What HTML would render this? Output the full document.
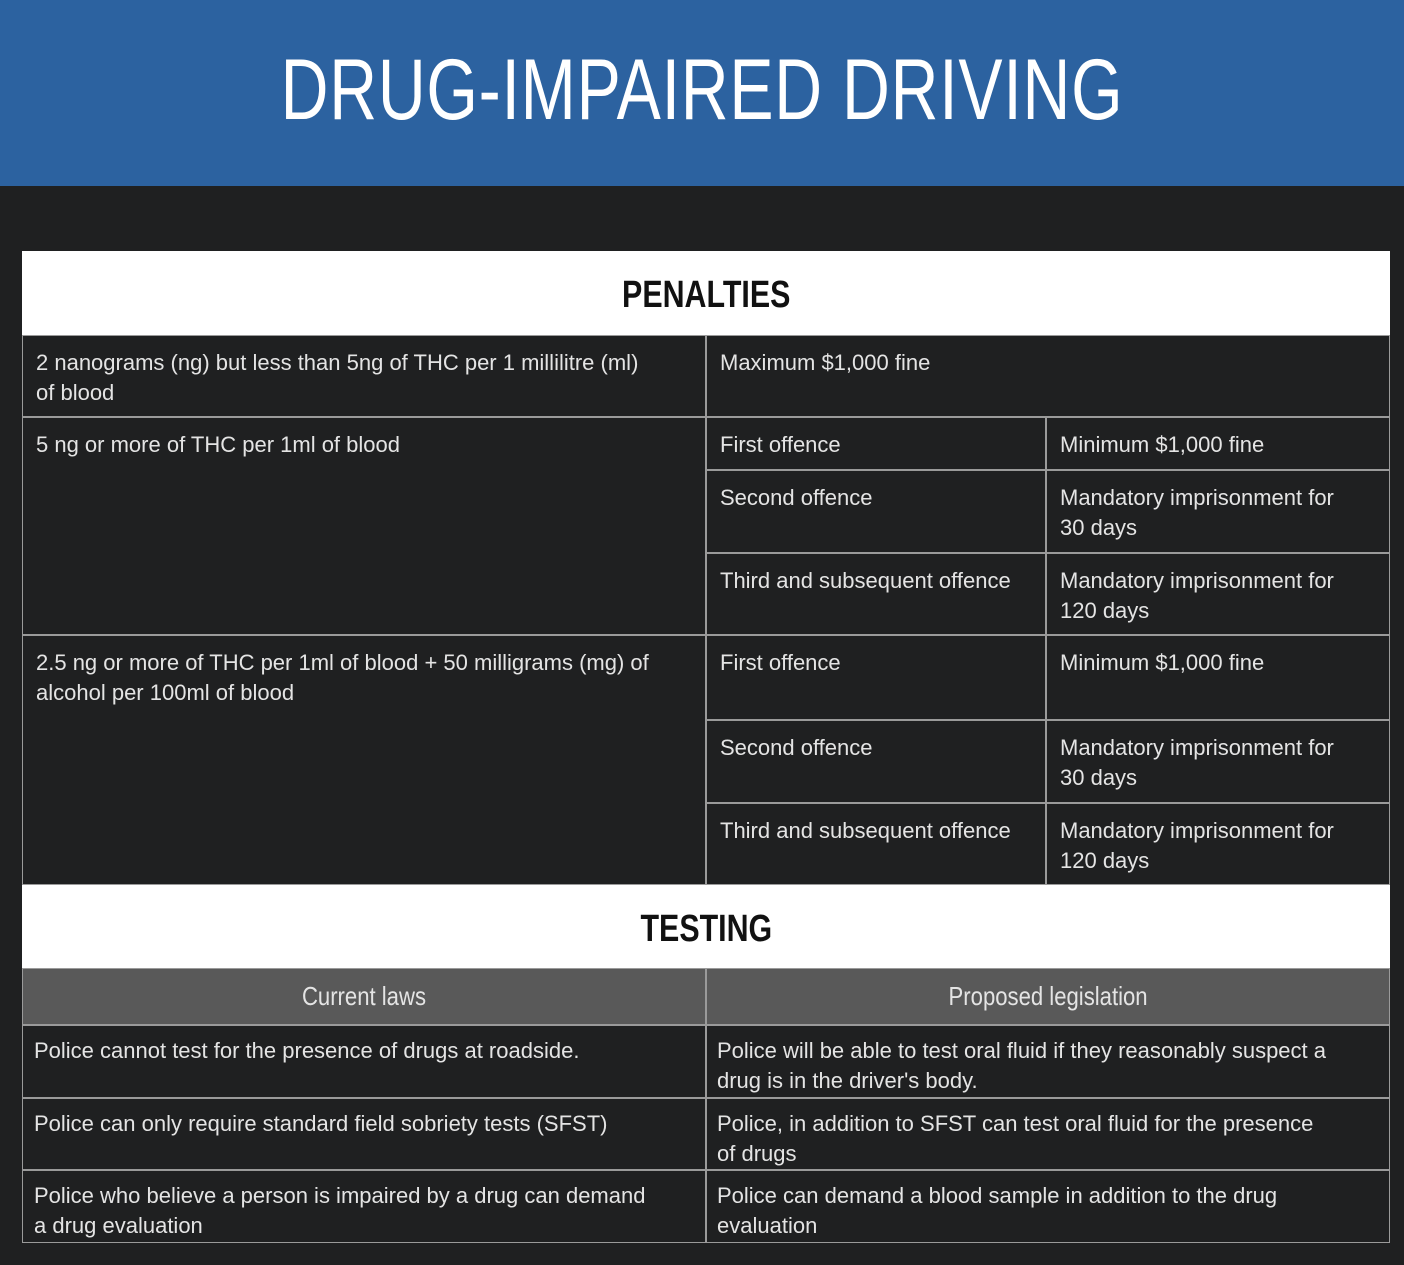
<!DOCTYPE html>
<html><head><meta charset="utf-8"><style>
body{margin:0;width:1404px;height:1265px;background:#1f2021;position:relative;overflow:hidden;font-family:"Liberation Sans",sans-serif;}
.hdr{position:absolute;left:0;top:0;width:1404px;height:186px;background:#2c62a0;}
.title{position:absolute;left:0;top:40px;width:1404px;text-align:center;color:#fff;font-size:86px;line-height:100px;transform:scaleX(0.77);letter-spacing:1px;}
.c{position:absolute;box-sizing:border-box;border:1px solid #9a9a9a;color:#e4e4e4;font-size:22px;line-height:30px;padding:12px 40px 0 13px;}
.w{position:absolute;background:#fff;color:#111;font-weight:bold;text-align:center;}
.w span{display:inline-block;transform:scaleX(0.8);font-size:38px;}
.g{background:#595959;text-align:center;padding:12px 0 0 0;font-size:26px;}
.g span{display:inline-block;transform:scaleX(0.85);}
</style></head><body>
<div class="hdr"></div>
<div class="title">DRUG-IMPAIRED DRIVING</div>

<div class="w" style="left:22px;top:251px;width:1368px;height:84px;line-height:88px"><span>PENALTIES</span></div>

<div class="c" style="left:22px;top:335px;width:684px;height:82px;padding-right:50px">2 nanograms (ng) but less than 5ng of THC per 1 millilitre (ml) of blood</div>
<div class="c" style="left:706px;top:335px;width:684px;height:82px">Maximum $1,000 fine</div>

<div class="c" style="left:22px;top:417px;width:684px;height:218px">5 ng or more of THC per 1ml of blood</div>
<div class="c" style="left:706px;top:417px;width:340px;height:53px;padding-right:5px">First offence</div>
<div class="c" style="left:1046px;top:417px;width:344px;height:53px">Minimum $1,000 fine</div>
<div class="c" style="left:706px;top:470px;width:340px;height:83px;padding-right:5px">Second offence</div>
<div class="c" style="left:1046px;top:470px;width:344px;height:83px">Mandatory imprisonment for 30 days</div>
<div class="c" style="left:706px;top:553px;width:340px;height:82px;padding-right:5px">Third and subsequent offence</div>
<div class="c" style="left:1046px;top:553px;width:344px;height:82px">Mandatory imprisonment for 120 days</div>

<div class="c" style="left:22px;top:635px;width:684px;height:250px">2.5 ng or more of THC per 1ml of blood + 50 milligrams (mg) of alcohol per 100ml of blood</div>
<div class="c" style="left:706px;top:635px;width:340px;height:85px;padding-right:5px">First offence</div>
<div class="c" style="left:1046px;top:635px;width:344px;height:85px">Minimum $1,000 fine</div>
<div class="c" style="left:706px;top:720px;width:340px;height:83px;padding-right:5px">Second offence</div>
<div class="c" style="left:1046px;top:720px;width:344px;height:83px">Mandatory imprisonment for 30 days</div>
<div class="c" style="left:706px;top:803px;width:340px;height:82px;padding-right:5px">Third and subsequent offence</div>
<div class="c" style="left:1046px;top:803px;width:344px;height:82px">Mandatory imprisonment for 120 days</div>

<div class="w" style="left:22px;top:885px;width:1368px;height:83px;line-height:88px"><span>TESTING</span></div>

<div class="c g" style="left:22px;top:968px;width:684px;height:57px"><span>Current laws</span></div>
<div class="c g" style="left:706px;top:968px;width:684px;height:57px"><span>Proposed legislation</span></div>

<div class="c" style="left:22px;top:1025px;width:684px;height:73px;padding-left:11px;padding-top:10px">Police cannot test for the presence of drugs at roadside.</div>
<div class="c" style="left:706px;top:1025px;width:684px;height:73px;padding-left:10px;padding-top:10px;padding-right:28px">Police will be able to test oral fluid if they reasonably suspect a drug is in the driver's body.</div>
<div class="c" style="left:22px;top:1098px;width:684px;height:72px;padding-left:11px;padding-top:10px">Police can only require standard field sobriety tests (SFST)</div>
<div class="c" style="left:706px;top:1098px;width:684px;height:72px;padding-left:10px;padding-top:10px;padding-right:60px">Police, in addition to SFST can test oral fluid for the presence of drugs</div>
<div class="c" style="left:22px;top:1170px;width:684px;height:73px;padding-left:11px;padding-top:10px;padding-right:50px">Police who believe a person is impaired by a drug can demand a drug evaluation</div>
<div class="c" style="left:706px;top:1170px;width:684px;height:73px;padding-left:10px;padding-top:10px">Police can demand a blood sample in addition to the drug evaluation</div>
</body></html>
